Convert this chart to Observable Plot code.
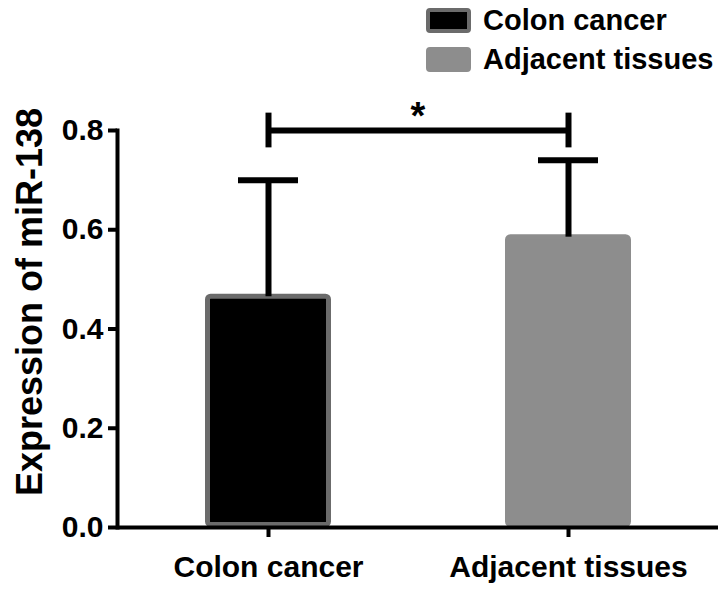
<!DOCTYPE html>
<html>
<head>
<meta charset="utf-8">
<script src="https://cdn.jsdelivr.net/npm/d3@7"></script>
<script src="https://cdn.jsdelivr.net/npm/@observablehq/plot@0.6"></script>
<style>
  html, body { margin: 0; padding: 0; background: #fff; }
  #wrap { position: relative; width: 724px; height: 590px; font-family: "Liberation Sans", Arial, sans-serif; font-weight: bold; }
  #legend { position: absolute; left: 426px; top: 8px; }
  .item { display: flex; align-items: center; height: 25px; margin-bottom: 14px; }
  .sw { width: 45px; height: 25px; box-sizing: border-box; border-radius: 4px; margin-right: 12px; }
  .lab { font-size: 29px; line-height: 25px; color: #000; white-space: nowrap; }
</style>
</head>
<body>
<div id="wrap"><div id="legend"></div></div>
<script>
// ---- data ----
const groups = ["Colon cancer", "Adjacent tissues"];
const means = [0.465, 0.585];
const sds = [0.235, 0.155];
const yTicks = [0, 0.2, 0.4, 0.6, 0.8];
const yTitle = "Expression of miR-138";
const comparison = {from: "Colon cancer", to: "Adjacent tissues", label: "*"};

// ---- style options ----
const fillColors = ["#000000", "#8d8d8d"];
const strokeColors = ["#6b6b6b", "#8d8d8d"];
const borderOf = new Map(groups.map((g, i) => [g, strokeColors[i]]));

const data = groups.map((g, i) => ({group: g, mean: means[i], sd: sds[i], top: means[i] + sds[i]}));

const bracketY = 0.8;
const font = "Liberation Sans, Arial, sans-serif";

const chart = Plot.plot({
  width: 724,
  height: 590,
  marginTop: 130,
  marginBottom: 63,
  marginLeft: 117,
  marginRight: 6,
  style: {fontFamily: font, fontWeight: "bold", background: "white", color: "black"},
  x: {domain: groups, paddingInner: 0.58, paddingOuter: 0.29},
  y: {domain: [0, 0.8]},
  color: {domain: groups, range: fillColors},
  marks: [
    Plot.barY(data, {x: "group", y: "mean", fill: "group", stroke: d => borderOf.get(d.group), strokeWidth: 5, inset: 2.5, insetTop: 0, rx: 3}),
    Plot.ruleX(data, {x: "group", y1: "mean", y2: "top", stroke: "black", strokeWidth: 6}),
    Plot.tickY(data, {x: "group", y: "top", stroke: "black", strokeWidth: 6, insetLeft: 33, insetRight: 33}),
    // significance bracket
    Plot.link([comparison], {x1: "from", x2: "to", y1: () => bracketY, y2: () => bracketY, stroke: "black", strokeWidth: 6}),
    Plot.ruleX([comparison.from, comparison.to], {x: d => d, y1: bracketY - 0.035, y2: bracketY + 0.035, stroke: "black", strokeWidth: 6}),
    Plot.text([comparison], {text: "label", y: () => bracketY, frameAnchor: "middle", lineAnchor: "middle", dy: -14, fontSize: 38, fontWeight: "bold", fill: "black"}),
    // axes
    Plot.ruleY([0], {stroke: "black", strokeWidth: 4}),
    Plot.frame({anchor: "left", stroke: "black", strokeWidth: 4}),
    Plot.axisY({ticks: yTicks, tickFormat: d3.format(".1f"), tickSize: 9, tickPadding: 5, strokeWidth: 4, fontSize: 30, fontWeight: "bold", label: null}),
    Plot.axisX({tickSize: 10, tickPadding: 18, strokeWidth: 4, fontSize: 30, fontWeight: "bold", label: null}),
    Plot.text([yTitle], {text: d => d, frameAnchor: "left", textAnchor: "middle", rotate: -90, dx: -87, dy: -27, fontSize: 36, fontWeight: "bold", fill: "black", lineAnchor: "middle"})
  ]
});

document.getElementById("wrap").prepend(chart);
chart.style.position = "absolute";
chart.style.left = "0";
chart.style.top = "0";

const legend = document.getElementById("legend");
groups.forEach((g, i) => {
  const item = document.createElement("div");
  item.className = "item";
  const sw = document.createElement("div");
  sw.className = "sw";
  sw.style.background = fillColors[i];
  sw.style.border = `4px solid ${strokeColors[i]}`;
  const lab = document.createElement("div");
  lab.className = "lab";
  lab.textContent = g;
  item.append(sw, lab);
  legend.append(item);
});
</script>
</body>
</html>
